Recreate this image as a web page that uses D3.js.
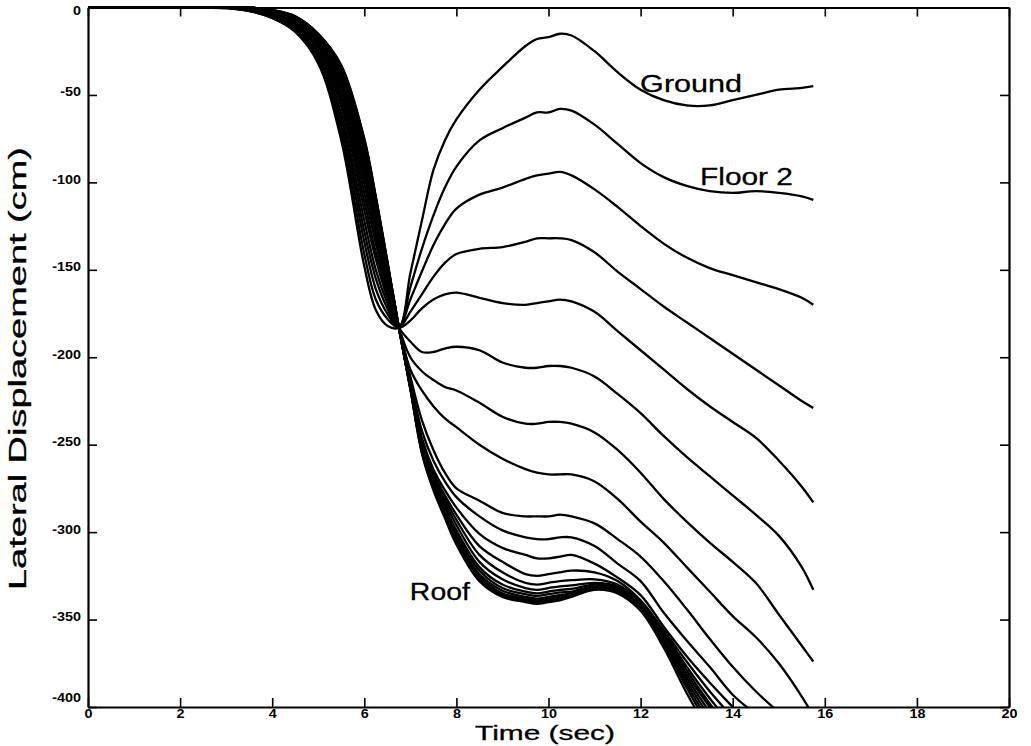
<!DOCTYPE html>
<html><head><meta charset="utf-8">
<script src="https://cdn.jsdelivr.net/npm/d3@7/dist/d3.min.js"></script>
<style>body{margin:0;background:#fff}svg{display:block}</style>
</head><body>
<svg id="chart" width="1031" height="746"></svg>
<script>
// ---------------- data ----------------
const time = [0,2,3,3.5,4,4.5,5,5.5,6,6.25,6.5,6.75,7,7.25,7.5,7.75,8,8.5,9,9.5,9.75,10,10.25,10.5,11,11.5,12,12.5,13,13.5,14,14.5,15,15.5,15.75];

const ground  = [0,0,-0.5,-2,-6,-14,-32,-76,-148,-173,-182,-183,-152,-122,-93,-76,-64,-47,-34,-22,-18,-17,-15,-16,-25,-37,-47,-53,-56,-56,-53,-50,-47,-46,-45];
const floor2  = [0,0,0,-2,-6,-13,-30,-72,-141,-167,-178,-183,-160,-138,-119,-103,-91,-76,-69,-63,-60,-60,-58,-59,-67,-78,-89,-97,-102,-105,-106,-105,-106,-108,-110];
const floor3  = [0,0,0,-2,-5,-12,-29,-68,-134,-161,-175,-183,-167,-151,-136,-124,-115,-107,-103,-98,-96,-95,-94,-96,-104,-114,-125,-135,-143,-149,-153,-157,-161,-166,-170];
const floor4  = [0,0,0,-1,-5,-12,-27,-64,-128,-155,-172,-183,-174,-164,-154,-146,-141,-138,-137,-134,-132,-132,-132,-133,-140,-151,-161,-171,-180,-189,-198,-207,-216,-225,-229];
const floor5  = [0,0,0,-1,-4,-11,-26,-61,-122,-150,-169,-183,-179,-172,-167,-164,-163,-166,-169,-170,-169,-168,-167,-168,-174,-185,-196,-207,-218,-228,-237,-246,-259,-274,-283];
const floor6  = [0,0,0,-1,-4,-10,-25,-57,-116,-144,-166,-183,-191,-197,-197,-195,-194,-196,-203,-206,-206,-205,-205,-206,-211,-221,-232,-245,-257,-268,-279,-290,-302,-320,-333];
const floor7  = [0,0,0,-1,-4,-9,-23,-54,-111,-140,-163,-183,-200,-208,-213,-217,-219,-226,-234,-238,-238,-237,-237,-238,-243,-253,-266,-281,-294,-306,-317,-329,-347,-365,-374];
const floor8  = [0,0,0,-1,-3,-9,-22,-51,-106,-135,-161,-183,-207,-219,-228,-235,-240,-250,-258,-264,-266,-267,-267,-267,-271,-281,-294,-306,-320,-334,-348,-360,-375,-394,-405];
const floor9  = [0,0,0,-1,-3,-8,-21,-49,-101,-131,-158,-183,-211,-236,-253,-266,-275,-282,-289,-291,-291,-291,-290,-291,-295,-304,-314,-328,-344,-361,-377,-391,-403];
const floor10 = [0,0,0,-1,-3,-8,-20,-46,-97,-128,-156,-183,-213,-242,-259,-271,-280,-291,-299,-303,-304,-304,-303,-303,-308,-318,-328,-346,-362,-377,-393,-404];
const floor11 = [0,0,0,-1,-3,-7,-19,-44,-93,-124,-154,-183,-215,-246,-264,-276,-286,-301,-309,-313,-315,-315,-314,-313,-318,-326,-336,-354,-371,-386,-400,-414];
const floor12 = [0,0,0,0,-2,-7,-18,-42,-90,-121,-152,-183,-216,-248,-266,-279,-290,-308,-317,-324,-325,-324,-323,-322,-323,-328,-339,-356,-374,-391,-406];
const floor13 = [0,0,0,0,-2,-6,-18,-40,-87,-118,-151,-183,-216,-248,-267.5,-281,-293,-313,-323,-329,-330,-329,-328,-327.5,-327,-330,-340,-357,-377,-395,-411];
const floor14 = [0,0,0,0,-2,-6,-17,-38,-84,-116,-149,-183,-216.5,-249,-269,-283,-296,-317,-327,-332,-333,-332,-331,-330.5,-329,-331,-341,-358,-379,-398,-415];
const floor15 = [0,0,0,0,-2,-6,-16.5,-37,-82,-114,-148,-183,-217,-250,-270.5,-285,-299,-320,-330,-334,-335,-334,-333,-332.5,-330,-332,-342,-359,-381,-400,-418];
const floor16 = [0,0,0,0,-2,-5.5,-16,-36,-79,-112,-147,-183,-217,-251,-272,-287,-301,-322,-332,-335.5,-336.5,-335.5,-334.5,-334,-331,-333,-343,-361,-383,-403];
const floor17 = [0,0,0,0,-1.7,-5.4,-15.7,-35,-78,-111,-146.5,-183,-217.5,-252,-273,-288.5,-303,-324,-333.5,-337,-338,-337,-336,-335,-331.5,-333.5,-343.5,-362,-385,-406];
const floor18 = [0,0,0,0,-1.6,-5.2,-15.3,-34,-76.5,-109,-145.7,-183,-218,-253,-274,-290,-304.5,-325.5,-335,-338,-339,-338,-337,-336,-332,-334,-344,-363,-387,-409];
const floor19 = [0,0,0,0,-1.5,-5.1,-15.2,-33.4,-75.7,-108.7,-145.4,-183,-218,-254,-275,-291,-306,-327,-336,-339,-340,-339,-338,-336.5,-332.5,-334.5,-344.5,-364,-389,-412];
const roof    = [0,0,0,0,-1.5,-5,-15,-33,-75,-108,-145,-183,-218,-255,-276,-292,-307,-328,-337,-340,-341,-340,-339,-337,-333,-335,-345,-366,-392,-415];

const seriesList = [ground,floor2,floor3,floor4,floor5,floor6,floor7,floor8,floor9,floor10,
                    floor11,floor12,floor13,floor14,floor15,floor16,floor17,floor18,floor19,roof];
const curveLabels = ["Ground","Floor 2","Roof"];
const xTicks = [0,2,4,6,8,10,12,14,16,18,20];
const yTicks = [0,-50,-100,-150,-200,-250,-300,-350,-400];
const xTitle = "Time (sec)";
const yTitle = "Lateral Displacement (cm)";

// ---------------- drawing ----------------
const svg = d3.select("#chart");
const L = 88, R = 1009, T = 7.5, B = 707;
const x = d3.scaleLinear().domain([0,20]).range([L,R]);
const y = d3.scaleLinear().domain([-400,0]).range([B,T]);
const FONT = "'Liberation Sans', Arial, Helvetica, sans-serif";

svg.append("rect").attr("width",1031).attr("height",746).attr("fill","#fff");

svg.append("defs").append("clipPath").attr("id","plotclip")
  .append("rect").attr("x",L).attr("y",T-2).attr("width",R-L).attr("height",B-T+2);

const line = d3.line()
  .x(d => x(d[0])).y(d => y(d[1]))
  .curve(d3.curveCatmullRom.alpha(0.5));

svg.append("g").attr("clip-path","url(#plotclip)")
  .selectAll("path").data(seriesList).join("path")
  .attr("d", s => line(s.map((v,i) => [time[i], v])))
  .attr("fill","none").attr("stroke","#000").attr("stroke-width",2.3)
  .attr("stroke-linejoin","round");

// axes
function styleAxis(g){
  g.select(".domain").attr("stroke","#000").attr("stroke-width",2.2);
  g.selectAll(".tick line").attr("stroke","#000").attr("stroke-width",1.6);
  g.selectAll(".tick text").attr("fill","#000")
    .style("font-family",FONT).style("font-size","12.5px").style("font-weight","bold");
}
const fmt = d => String(d);
const gx = svg.append("g").attr("transform",`translate(0,${B})`)
  .call(d3.axisBottom(x).tickValues(xTicks).tickSize(-9).tickSizeOuter(0).tickPadding(2).tickFormat(fmt));
styleAxis(gx);
const gxt = svg.append("g").attr("transform",`translate(0,${T})`)
  .call(d3.axisTop(x).tickValues(xTicks).tickSize(-9).tickSizeOuter(0).tickFormat(""));
styleAxis(gxt);
const gy = svg.append("g").attr("transform",`translate(${L},0)`)
  .call(d3.axisLeft(y).tickValues(yTicks).tickSize(-9).tickSizeOuter(0).tickPadding(7).tickFormat(fmt));
styleAxis(gy);
gy.selectAll(".tick text").attr("y", d => d === 0 ? 3 : (d === -400 ? -10 : -3));
const gyr = svg.append("g").attr("transform",`translate(${R},0)`)
  .call(d3.axisRight(y).tickValues(yTicks).tickSize(-9).tickSizeOuter(0).tickFormat(""));
styleAxis(gyr);

// stretch tick labels slightly (wide plotting font)
svg.selectAll(".tick text").each(function(){
  const w = this.getComputedTextLength();
  if (w > 0) d3.select(this).attr("textLength", w*1.15).attr("lengthAdjust","spacingAndGlyphs");
});

// titles
function addText(str, px, py, size, len, rot){
  const t = svg.append("text").text(str)
    .attr("x",px).attr("y",py)
    .style("font-family",FONT).style("font-size",size+"px")
    .attr("fill","#000").attr("stroke","#000").attr("stroke-width",0.3)
    .attr("textLength",len).attr("lengthAdjust","spacingAndGlyphs");
  if (rot) t.attr("transform",`rotate(-90,${px},${py})`);
  return t;
}
addText(xTitle, 475, 740, 20, 140);
addText(yTitle, 26, 590, 23, 443, true);

// curve labels
addText(curveLabels[0], x(11.99), y(-48.3), 23, 102);
addText(curveLabels[1], x(13.29), y(-101.5), 23, 93);
addText(curveLabels[2], x(6.99), y(-338.8), 23, 60);
</script>
</body></html>
